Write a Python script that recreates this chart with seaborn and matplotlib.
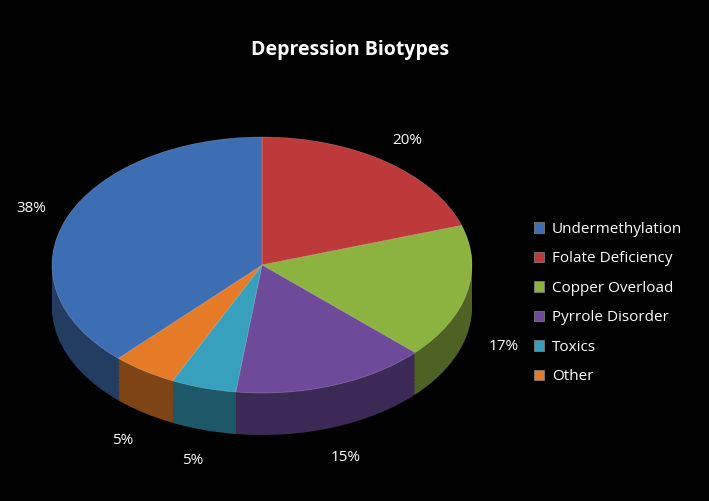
import numpy as np
import seaborn as sns
import matplotlib.pyplot as plt
import matplotlib.colors as mcolors

sns.set_theme(style="white")
plt.rcParams['font.family'] = ['Open Sans', 'DejaVu Sans']

# legend order
categories = ['Undermethylation', 'Folate Deficiency', 'Copper Overload',
              'Pyrrole Disorder', 'Toxics', 'Other']
shares = [38, 20, 17, 15, 5, 5]
colors = ['#3d6db3', '#be3a3a', '#8cb23f', '#6d4a9a', '#36a0bd', '#e57b27']

# clockwise from top, starting with Folate Deficiency
pie_order = [1, 2, 3, 4, 5, 0]
vals = [shares[i] for i in pie_order]
cols = [colors[i] for i in pie_order]

fig = plt.figure(figsize=(7.09, 5.01), dpi=100, facecolor='black')
W, H = 709, 501
cx, cy, rx, ry, depth = 262, 265, 210, 128, 42
d = depth / ry
ylo = -1 - d - 0.05
top_px = cy - ry
bot_px = cy - ylo * ry
ax = fig.add_axes([(cx - rx) / W, (H - bot_px) / H, 2 * rx / W, (bot_px - top_px) / H])
ax.set_facecolor('black')
ax.axis('off')

steps = 30
dark = [tuple(np.array(mcolors.to_rgb(c)) * 0.55) for c in cols]
for k in range(steps, 0, -1):
    off = -d * k / steps
    ax.pie(vals, colors=dark, startangle=90, counterclock=False, center=(0, off),
           wedgeprops=dict(linewidth=0))
wedges, _ = ax.pie(vals, colors=cols, startangle=90, counterclock=False,
                   wedgeprops=dict(linewidth=0.5, edgecolor=(1, 1, 1, 0.25)))
ax.set_aspect('auto')
ax.set_xlim(-1, 1)
ax.set_ylim(ylo, 1)

for w, v in zip(wedges, vals):
    ang = np.deg2rad((w.theta1 + w.theta2) / 2)
    x, y = 1.18 * np.cos(ang), 1.2 * np.sin(ang)
    if y < 0:
        y -= d + 0.05
    ax.text(x, y, f'{v}%', color='white', fontsize=11, ha='center', va='center')

fig.text(350 / W, 1 - 50 / H, 'Depression Biotypes', color='white', fontsize=14,
         fontweight='bold', ha='center', va='center')

handles = [plt.Rectangle((0, 0), 1, 1, facecolor=c, edgecolor='#888888', linewidth=0.5) for c in colors]
fig.legend(handles, categories, loc='upper left', bbox_to_anchor=(520 / W, 1 - 208 / H),
           frameon=False, labelcolor='white', fontsize=11, handlelength=0.7, handleheight=0.7,
           handletextpad=0.5, labelspacing=0.95)

fig.savefig('out.png', dpi=100, facecolor='black')
